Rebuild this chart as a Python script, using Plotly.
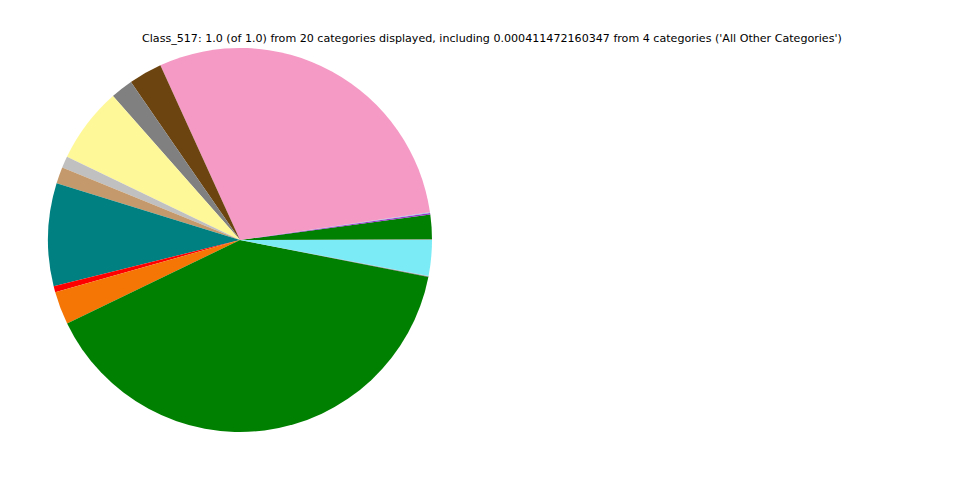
import plotly.graph_objects as go

categories = ["Cat_A", "Cat_B", "Cat_C", "Cat_D", "Cat_E", "Cat_F", "Cat_G", "Cat_H",
              "Cat_I", "Cat_J", "Cat_K", "Cat_L", "Cat_M", "Cat_N", "Cat_O", "Cat_P",
              "All Other Categories"]
values = [0.0208, 0.0014, 0.0006, 0.2950, 0.0281, 0.0189, 0.0636, 0.0097, 0.0139,
          0.0865, 0.0051, 0.0278, 0.3975, 0.0005, 0.0003, 0.0300, 0.000411472160347]
colors = ["#008000", "#9932CC", "#8CC8E0", "#F49AC4", "#6B4410", "#808080", "#FFF899",
          "#C0C0C0", "#C49A6C", "#008080", "#FF0000", "#F57505", "#008000", "#404040",
          "#B0B0B0", "#7BEBF5", "#A0A0A0"]

title = "Class_517: 1.0 (of 1.0) from 20 categories displayed, including 0.000411472160347 from 4 categories ('All Other Categories')"

W, H = 960, 480
off = 8  # page body margin

fig = go.Figure(go.Pie(
    labels=categories,
    values=values,
    marker=dict(colors=colors, line=dict(width=0)),
    sort=False,
    direction="counterclockwise",
    rotation=82.4,
    textinfo="none",
    hoverinfo="label+percent",
    domain=dict(x=[(48 - off) / W, (432 - off) / W],
                y=[1 - (432 - off) / H, 1 - (48 - off) / H]),
    showlegend=False,
))

fig.add_annotation(text=title, x=(492 - off) / W, y=1 - (39 - off) / H,
                   xref="paper", yref="paper", yanchor="middle",
                   showarrow=False, font=dict(family="DejaVu Sans", size=11.1, color="black"))

fig.update_layout(
    width=W, height=H,
    margin=dict(l=0, r=0, t=0, b=0),
    paper_bgcolor="white", plot_bgcolor="white",
)

fig.write_html("out.html")
